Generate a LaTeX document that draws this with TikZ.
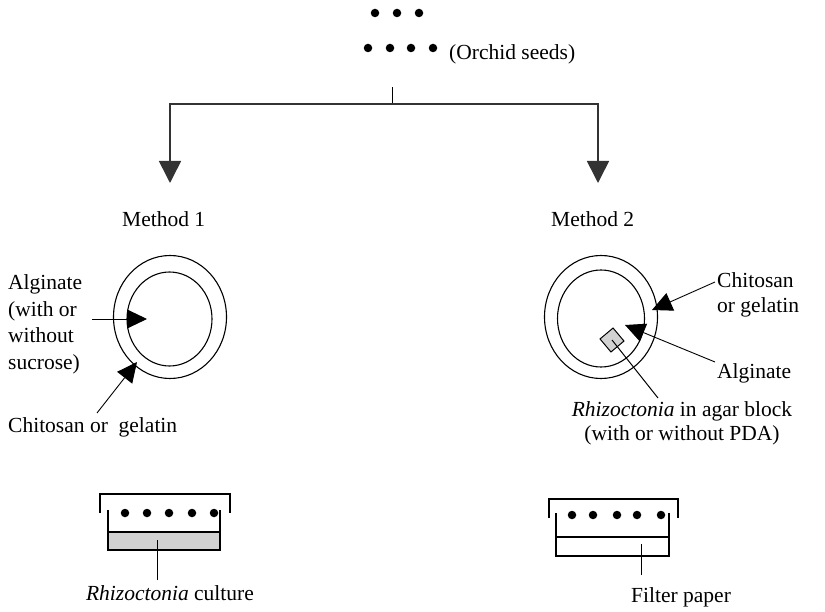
\documentclass[tikz,border=0pt]{standalone}
\usepackage{fontspec}
\setmainfont{Liberation Serif}
\usetikzlibrary{arrows.meta,shapes.geometric}
\begin{document}
\begin{tikzpicture}[x=1pt,y=-1pt,
  lbl/.style={font=\fontsize{21.5}{26.5}\selectfont, inner sep=0pt, anchor=base west},
  clbl/.style={font=\fontsize{21.5}{26.5}\selectfont, inner sep=0pt, anchor=base},
  seed/.style={circle, fill=black, inner sep=0pt, minimum size=8.5pt},
  bigarrow/.style={line width=1.6pt, draw=black!80, -{Triangle[length=22pt,width=22pt]}},
  smallarrow/.style={line width=0.9pt, -{Triangle[length=20pt,width=19pt]}},
  thinline/.style={line width=1pt},
  ring/.style={draw, ellipse, line width=1.1pt, inner sep=0pt},
  dishline/.style={line width=1.3pt},
  ]
\useasboundingbox (0,0) rectangle (825,612);

% seeds at top
\foreach \x [count=\i] in {375,397,419} \node[seed] (ta\i) at (\x,13) {};
\foreach \x [count=\i] in {368,390,411,433} \node[seed] (tb\i) at (\x,48) {};
\node[lbl] (orchid) at (449,60) {(Orchid seeds)};

% split arrows
\coordinate (stemtop) at (392,87);
\coordinate (split) at (392,104);
\coordinate (lcorner) at (170,104);
\coordinate (rcorner) at (598,104);
\coordinate (ltip) at (170,183);
\coordinate (rtip) at (598,183);
\draw[thinline] (stemtop) -- (split);
\draw[bigarrow] (split) -- (lcorner) -- (ltip);
\draw[bigarrow] (split) -- (rcorner) -- (rtip);

\node[lbl] (m1) at (122,227) {Method 1};
\node[lbl] (m2) at (551,227) {Method 2};

% Method 1 capsule
\node[ring, minimum width=113pt, minimum height=123pt] (outer1) at (170,317) {};
\node[ring, minimum width=85pt, minimum height=94pt] (inner1) at (169.5,319) {};

\node[lbl] (alg1) at (8,290) {Alginate};
\node[lbl] (alg2) at (8,317) {(with or};
\node[lbl] (alg3) at (8,343) {without};
\node[lbl] (alg4) at (8,370) {sucrose)};
\coordinate (algtail) at (92,319);
\coordinate (algtip) at (147,319);
\draw[smallarrow] (algtail) -- (algtip);

\node[lbl] (chi1) at (8,432) {Chitosan or\ \ gelatin};
\coordinate (chitail) at (97,413);
\coordinate (chitip) at (137,362);
\draw[smallarrow] (chitail) -- (chitip);

% Method 2 capsule
\node[ring, minimum width=113pt, minimum height=123pt] (outer2) at (601,317) {};
\node[ring, minimum width=87pt, minimum height=97pt] (inner2) at (601,318.5) {};
\node[draw, fill=gray!35, line width=1pt, rotate=40, minimum size=17pt, inner sep=0pt] (blk) at (612,340) {};
\coordinate (rhtail) at (658,398);
\draw[thinline] (blk.center) -- (rhtail);

\node[lbl] (chi2a) at (717,288) {Chitosan};
\node[lbl] (chi2b) at (717,313) {or gelatin};
\coordinate (chi2tail) at (715,282);
\coordinate (chi2tip) at (652,310);
\draw[smallarrow] (chi2tail) -- (chi2tip);

\node[lbl] (alg2r) at (717,378) {Alginate};
\coordinate (alg2tail) at (715,362);
\coordinate (alg2tip) at (625,325);
\draw[smallarrow] (alg2tail) -- (alg2tip);

\node[clbl] (rh1) at (682,417) {\itshape Rhizoctonia\upshape{} in agar block};
\node[clbl] (rh2) at (682,440) {(with or without PDA)};

% Method 1 dish
\draw[dishline] (100,513) -- (100,494) -- (230,494) -- (230,513);
\fill[gray!35] (108,532) rectangle (220,550);
\draw[dishline] (108,510) -- (108,550) -- (220,550) -- (220,510);
\draw[dishline] (108,532) -- (220,532);
\foreach \x [count=\i] in {125,147,169,192,214} \node[seed] (da\i) at (\x,513) {};
\coordinate (cultop) at (157,540);
\coordinate (culbot) at (157,580);
\draw[thinline] (cultop) -- (culbot);
\node[clbl] (cul) at (170,600) {\itshape Rhizoctonia\upshape{} culture};

% Method 2 dish
\draw[dishline] (549,518) -- (549,499) -- (678,499) -- (678,518);
\draw[dishline] (556,513) -- (556,556) -- (669,556) -- (669,513);
\draw[dishline] (556,537) -- (669,537);
\foreach \x [count=\i] in {572,593,617,637,661} \node[seed] (db\i) at (\x,515) {};
\coordinate (fptop) at (641,544);
\coordinate (fpbot) at (641,575);
\draw[thinline] (fptop) -- (fpbot);
\node[lbl] (fp) at (631,602) {Filter paper};
\end{tikzpicture}
\end{document}
